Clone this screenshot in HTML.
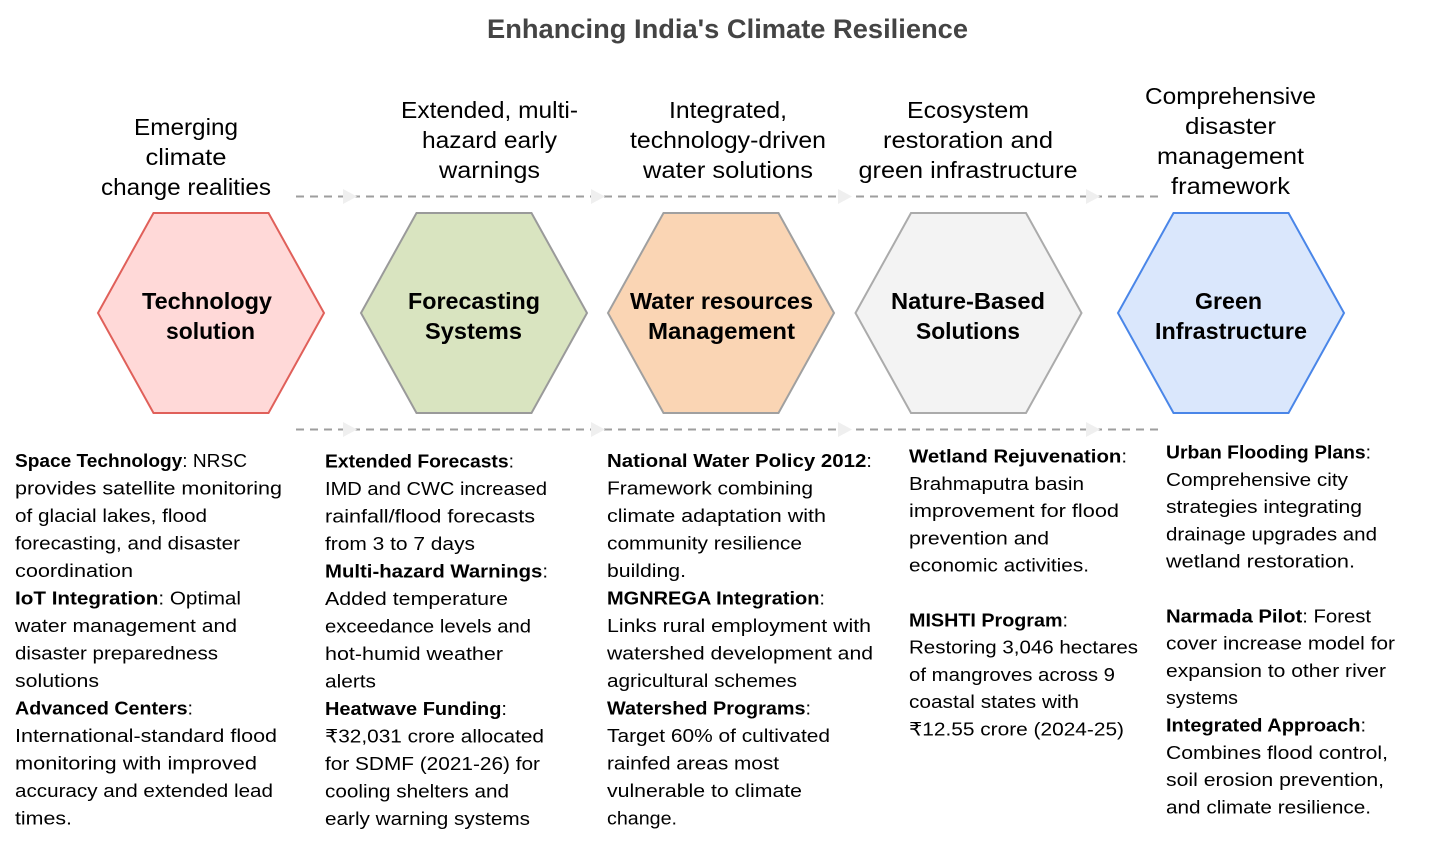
<!DOCTYPE html>
<html>
<head>
<meta charset="utf-8">
<style>
html,body{margin:0;padding:0;background:#fff;}
svg{display:block;}
.t{font-family:"Liberation Sans",Arial,sans-serif;}
.body{font-family:"Liberation Sans",Arial,sans-serif;font-size:18.5px;fill:#000;}
.hdr{font-family:"Liberation Sans",Arial,sans-serif;font-size:23px;fill:#000;}
.hx{font-family:"Liberation Sans",Arial,sans-serif;font-size:23px;font-weight:bold;fill:#000;}
</style>
</head>
<body>
<svg width="1435" height="846" viewBox="0 0 1435 846" xmlns="http://www.w3.org/2000/svg">
<rect width="1435" height="846" fill="#fff"/>

<!-- Title -->
<text class="t" x="727.5" y="38" text-anchor="middle" font-size="27" font-weight="bold" fill="#444" textLength="481" lengthAdjust="spacingAndGlyphs">Enhancing India's Climate Resilience</text>

<!-- Header labels -->
<text class="hdr" x="186" y="135" text-anchor="middle" textLength="104" lengthAdjust="spacingAndGlyphs">Emerging</text>
<text class="hdr" x="186" y="165" text-anchor="middle" textLength="81" lengthAdjust="spacingAndGlyphs">climate</text>
<text class="hdr" x="186" y="195" text-anchor="middle" textLength="170" lengthAdjust="spacingAndGlyphs">change realities</text>

<text class="hdr" x="489.5" y="118" text-anchor="middle" textLength="177" lengthAdjust="spacingAndGlyphs">Extended, multi-</text>
<text class="hdr" x="489.5" y="148" text-anchor="middle" textLength="135" lengthAdjust="spacingAndGlyphs">hazard early</text>
<text class="hdr" x="489.5" y="178" text-anchor="middle" textLength="101" lengthAdjust="spacingAndGlyphs">warnings</text>

<text class="hdr" x="728" y="118" text-anchor="middle" textLength="118" lengthAdjust="spacingAndGlyphs">Integrated,</text>
<text class="hdr" x="728" y="148" text-anchor="middle" textLength="196" lengthAdjust="spacingAndGlyphs">technology-driven</text>
<text class="hdr" x="728" y="178" text-anchor="middle" textLength="170" lengthAdjust="spacingAndGlyphs">water solutions</text>

<text class="hdr" x="968" y="118" text-anchor="middle" textLength="122" lengthAdjust="spacingAndGlyphs">Ecosystem</text>
<text class="hdr" x="968" y="148" text-anchor="middle" textLength="170" lengthAdjust="spacingAndGlyphs">restoration and</text>
<text class="hdr" x="968" y="178" text-anchor="middle" textLength="219" lengthAdjust="spacingAndGlyphs">green infrastructure</text>

<text class="hdr" x="1230.5" y="104" text-anchor="middle" textLength="171" lengthAdjust="spacingAndGlyphs">Comprehensive</text>
<text class="hdr" x="1230.5" y="134" text-anchor="middle" textLength="91" lengthAdjust="spacingAndGlyphs">disaster</text>
<text class="hdr" x="1230.5" y="164" text-anchor="middle" textLength="147" lengthAdjust="spacingAndGlyphs">management</text>
<text class="hdr" x="1230.5" y="194" text-anchor="middle" textLength="119" lengthAdjust="spacingAndGlyphs">framework</text>

<!-- Dashed connectors -->
<line x1="296" y1="196.5" x2="1162" y2="196.5" stroke="#9e9e9e" stroke-width="2" stroke-dasharray="8 6"/>
<line x1="296" y1="429.5" x2="1162" y2="429.5" stroke="#9e9e9e" stroke-width="2" stroke-dasharray="8 6"/>
<g fill="#efefef">
<polygon points="343,189 357,196.5 343,204"/>
<polygon points="591,189 605,196.5 591,204"/>
<polygon points="838,189 852,196.5 838,204"/>
<polygon points="1086,189 1100,196.5 1086,204"/>
<polygon points="343,422 357,429.5 343,437"/>
<polygon points="591,422 605,429.5 591,437"/>
<polygon points="838,422 852,429.5 838,437"/>
<polygon points="1086,422 1100,429.5 1086,437"/>
</g>

<!-- Hexagons -->
<polygon points="98,313 153.5,213 268.5,213 324,313 268.5,413 153.5,413" fill="#ffd9d8" stroke="#e0605a" stroke-width="2"/>
<polygon points="361,313 416.5,213 531.5,213 587,313 531.5,413 416.5,413" fill="#d9e4c0" stroke="#9a9a9a" stroke-width="2"/>
<polygon points="608,313 663.5,213 778.5,213 834,313 778.5,413 663.5,413" fill="#fad5b4" stroke="#a0a0a0" stroke-width="2"/>
<polygon points="855.5,313 911,213 1026,213 1081.5,313 1026,413 911,413" fill="#f3f3f3" stroke="#ababab" stroke-width="2"/>
<polygon points="1118,313 1173.5,213 1288.5,213 1344,313 1288.5,413 1173.5,413" fill="#dae7fc" stroke="#4a86e8" stroke-width="2"/>

<!-- Hexagon labels -->
<text class="hx" x="207" y="309" text-anchor="middle" textLength="130" lengthAdjust="spacingAndGlyphs">Technology</text>
<text class="hx" x="210.5" y="339" text-anchor="middle" textLength="89" lengthAdjust="spacingAndGlyphs">solution</text>
<text class="hx" x="474" y="309" text-anchor="middle" textLength="132" lengthAdjust="spacingAndGlyphs">Forecasting</text>
<text class="hx" x="473.5" y="339" text-anchor="middle" textLength="97" lengthAdjust="spacingAndGlyphs">Systems</text>
<text class="hx" x="721.5" y="309" text-anchor="middle" textLength="183" lengthAdjust="spacingAndGlyphs">Water resources</text>
<text class="hx" x="721.5" y="339" text-anchor="middle" textLength="147" lengthAdjust="spacingAndGlyphs">Management</text>
<text class="hx" x="968" y="309" text-anchor="middle" textLength="154" lengthAdjust="spacingAndGlyphs">Nature-Based</text>
<text class="hx" x="968" y="339" text-anchor="middle" textLength="104" lengthAdjust="spacingAndGlyphs">Solutions</text>
<text class="hx" x="1228.5" y="309" text-anchor="middle" textLength="67" lengthAdjust="spacingAndGlyphs">Green</text>
<text class="hx" x="1231" y="339" text-anchor="middle" textLength="152" lengthAdjust="spacingAndGlyphs">Infrastructure</text>

<!-- Column 1 -->
<g class="body">
<text x="15" y="467" textLength="232" lengthAdjust="spacingAndGlyphs"><tspan font-weight="bold">Space Technology</tspan>: NRSC</text>
<text x="15" y="494.5" textLength="267" lengthAdjust="spacingAndGlyphs">provides satellite monitoring</text>
<text x="15" y="522" textLength="192" lengthAdjust="spacingAndGlyphs">of glacial lakes, flood</text>
<text x="15" y="549.5" textLength="225" lengthAdjust="spacingAndGlyphs">forecasting, and disaster</text>
<text x="15" y="577" textLength="118" lengthAdjust="spacingAndGlyphs">coordination</text>
<text x="15" y="604.5" textLength="226" lengthAdjust="spacingAndGlyphs"><tspan font-weight="bold">IoT Integration</tspan>: Optimal</text>
<text x="15" y="632" textLength="222" lengthAdjust="spacingAndGlyphs">water management and</text>
<text x="15" y="659.5" textLength="203" lengthAdjust="spacingAndGlyphs">disaster preparedness</text>
<text x="15" y="687" textLength="84" lengthAdjust="spacingAndGlyphs">solutions</text>
<text x="15" y="714.5" textLength="178" lengthAdjust="spacingAndGlyphs"><tspan font-weight="bold">Advanced Centers</tspan>:</text>
<text x="15" y="742" textLength="262" lengthAdjust="spacingAndGlyphs">International-standard flood</text>
<text x="15" y="769.5" textLength="242" lengthAdjust="spacingAndGlyphs">monitoring with improved</text>
<text x="15" y="797" textLength="258" lengthAdjust="spacingAndGlyphs">accuracy and extended lead</text>
<text x="15" y="824.5" textLength="57" lengthAdjust="spacingAndGlyphs">times.</text>
</g>

<!-- Column 2 -->
<g class="body">
<text x="325" y="467.5" textLength="189" lengthAdjust="spacingAndGlyphs"><tspan font-weight="bold">Extended Forecasts</tspan>:</text>
<text x="325" y="495" textLength="222" lengthAdjust="spacingAndGlyphs">IMD and CWC increased</text>
<text x="325" y="522.5" textLength="210" lengthAdjust="spacingAndGlyphs">rainfall/flood forecasts</text>
<text x="325" y="550" textLength="150" lengthAdjust="spacingAndGlyphs">from 3 to 7 days</text>
<text x="325" y="577.5" textLength="223" lengthAdjust="spacingAndGlyphs"><tspan font-weight="bold">Multi-hazard Warnings</tspan>:</text>
<text x="325" y="605" textLength="183" lengthAdjust="spacingAndGlyphs">Added temperature</text>
<text x="325" y="632.5" textLength="206" lengthAdjust="spacingAndGlyphs">exceedance levels and</text>
<text x="325" y="660" textLength="178" lengthAdjust="spacingAndGlyphs">hot-humid weather</text>
<text x="325" y="687.5" textLength="51" lengthAdjust="spacingAndGlyphs">alerts</text>
<text x="325" y="715" textLength="182" lengthAdjust="spacingAndGlyphs"><tspan font-weight="bold">Heatwave Funding</tspan>:</text>
<text x="325" y="742.5" textLength="219" lengthAdjust="spacingAndGlyphs">₹32,031 crore allocated</text>
<text x="325" y="770" textLength="215" lengthAdjust="spacingAndGlyphs">for SDMF (2021-26) for</text>
<text x="325" y="797.5" textLength="184" lengthAdjust="spacingAndGlyphs">cooling shelters and</text>
<text x="325" y="825" textLength="205" lengthAdjust="spacingAndGlyphs">early warning systems</text>
</g>

<!-- Column 3 -->
<g class="body">
<text x="607" y="467" textLength="265" lengthAdjust="spacingAndGlyphs"><tspan font-weight="bold">National Water Policy 2012</tspan>:</text>
<text x="607" y="494.5" textLength="206" lengthAdjust="spacingAndGlyphs">Framework combining</text>
<text x="607" y="522" textLength="219" lengthAdjust="spacingAndGlyphs">climate adaptation with</text>
<text x="607" y="549.5" textLength="195" lengthAdjust="spacingAndGlyphs">community resilience</text>
<text x="607" y="577" textLength="79" lengthAdjust="spacingAndGlyphs">building.</text>
<text x="607" y="604.5" textLength="218" lengthAdjust="spacingAndGlyphs"><tspan font-weight="bold">MGNREGA Integration</tspan>:</text>
<text x="607" y="632" textLength="264" lengthAdjust="spacingAndGlyphs">Links rural employment with</text>
<text x="607" y="659.5" textLength="266" lengthAdjust="spacingAndGlyphs">watershed development and</text>
<text x="607" y="687" textLength="190" lengthAdjust="spacingAndGlyphs">agricultural schemes</text>
<text x="607" y="714.5" textLength="204" lengthAdjust="spacingAndGlyphs"><tspan font-weight="bold">Watershed Programs</tspan>:</text>
<text x="607" y="742" textLength="223" lengthAdjust="spacingAndGlyphs">Target 60% of cultivated</text>
<text x="607" y="769.5" textLength="172" lengthAdjust="spacingAndGlyphs">rainfed areas most</text>
<text x="607" y="797" textLength="195" lengthAdjust="spacingAndGlyphs">vulnerable to climate</text>
<text x="607" y="824.5" textLength="70" lengthAdjust="spacingAndGlyphs">change.</text>
</g>

<!-- Column 4 -->
<g class="body">
<text x="909" y="462.5" textLength="218" lengthAdjust="spacingAndGlyphs"><tspan font-weight="bold">Wetland Rejuvenation</tspan>:</text>
<text x="909" y="489.8" textLength="175" lengthAdjust="spacingAndGlyphs">Brahmaputra basin</text>
<text x="909" y="517.1" textLength="210" lengthAdjust="spacingAndGlyphs">improvement for flood</text>
<text x="909" y="544.4" textLength="140" lengthAdjust="spacingAndGlyphs">prevention and</text>
<text x="909" y="571.7" textLength="180" lengthAdjust="spacingAndGlyphs">economic activities.</text>
<text x="909" y="626.3" textLength="159" lengthAdjust="spacingAndGlyphs"><tspan font-weight="bold">MISHTI Program</tspan>:</text>
<text x="909" y="653.6" textLength="229" lengthAdjust="spacingAndGlyphs">Restoring 3,046 hectares</text>
<text x="909" y="680.9" textLength="206" lengthAdjust="spacingAndGlyphs">of mangroves across 9</text>
<text x="909" y="708.2" textLength="170" lengthAdjust="spacingAndGlyphs">coastal states with</text>
<text x="909" y="735.5" textLength="215" lengthAdjust="spacingAndGlyphs">₹12.55 crore (2024-25)</text>
</g>

<!-- Column 5 -->
<g class="body">
<text x="1166" y="458.5" textLength="205" lengthAdjust="spacingAndGlyphs"><tspan font-weight="bold">Urban Flooding Plans</tspan>:</text>
<text x="1166" y="485.8" textLength="182" lengthAdjust="spacingAndGlyphs">Comprehensive city</text>
<text x="1166" y="513.1" textLength="196" lengthAdjust="spacingAndGlyphs">strategies integrating</text>
<text x="1166" y="540.4" textLength="211" lengthAdjust="spacingAndGlyphs">drainage upgrades and</text>
<text x="1166" y="567.7" textLength="189" lengthAdjust="spacingAndGlyphs">wetland restoration.</text>
<text x="1166" y="622.3" textLength="205" lengthAdjust="spacingAndGlyphs"><tspan font-weight="bold">Narmada Pilot</tspan>: Forest</text>
<text x="1166" y="649.6" textLength="229" lengthAdjust="spacingAndGlyphs">cover increase model for</text>
<text x="1166" y="676.9" textLength="220" lengthAdjust="spacingAndGlyphs">expansion to other river</text>
<text x="1166" y="704.2" textLength="72" lengthAdjust="spacingAndGlyphs">systems</text>
<text x="1166" y="731.5" textLength="200" lengthAdjust="spacingAndGlyphs"><tspan font-weight="bold">Integrated Approach</tspan>:</text>
<text x="1166" y="758.8" textLength="222" lengthAdjust="spacingAndGlyphs">Combines flood control,</text>
<text x="1166" y="786.1" textLength="218" lengthAdjust="spacingAndGlyphs">soil erosion prevention,</text>
<text x="1166" y="813.4" textLength="205" lengthAdjust="spacingAndGlyphs">and climate resilience.</text>
</g>
</svg>
</body>
</html>
